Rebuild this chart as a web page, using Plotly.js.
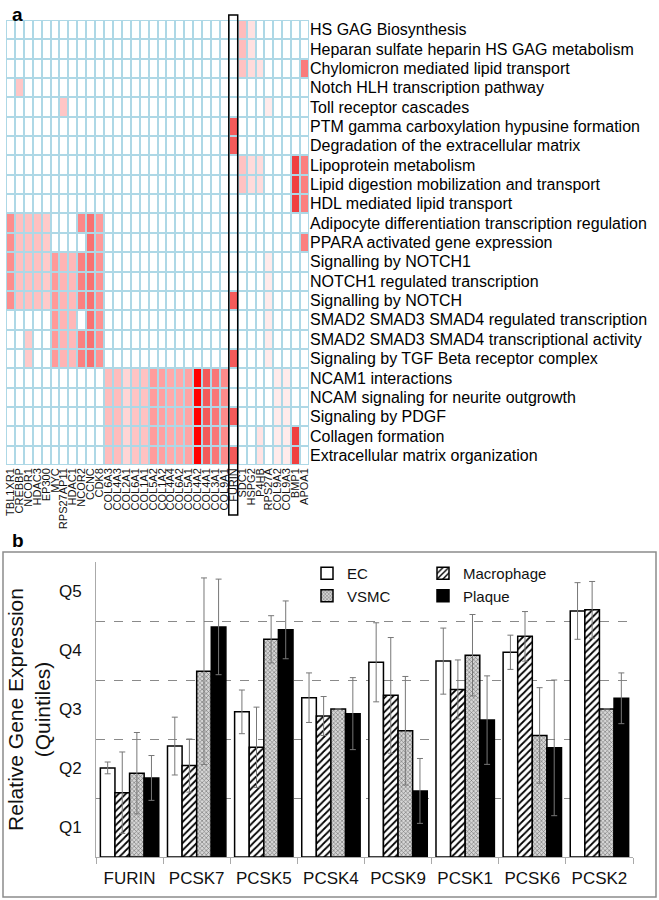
<!DOCTYPE html>
<html>
<head>
<meta charset="utf-8">
<script src="https://cdn.plot.ly/plotly-3.0.1.min.js"></script>
<style>html,body{margin:0;padding:0;background:#fff;}#chart{width:659px;height:900px;}</style>
</head>
<body>
<div id="chart"></div>
<script>
// ---------- Panel a : heatmap ----------
const genes = ['TBL1XR1','CREBBP','NCOR1','HDAC3','EP300','MYC','RPS27AP11','HDAC1','NCOR2','CCNC','CDK8',
  'COL6A3','COL4A3','COL2A1','COL6A1','COL1A1','COL5A2','COL1A2','COL4A4','COL6A2','COL5A1','COL4A2','COL4A1','COL3A1','COL9A1',
  'FURIN','SDC1','HSPG2','P4HB','RPS27A','COL9A2','COL9A3','BMP1','APOA1'];
const pathways = ['HS GAG Biosynthesis','Heparan sulfate heparin HS GAG metabolism','Chylomicron mediated lipid transport',
  'Notch HLH transcription pathway','Toll receptor cascades','PTM gamma carboxylation hypusine formation',
  'Degradation of the extracellular matrix','Lipoprotein metabolism','Lipid digestion mobilization and transport',
  'HDL mediated lipid transport','Adipocyte differentiation transcription regulation','PPARA activated gene expression',
  'Signalling by NOTCH1','NOTCH1 regulated transcription','Signalling by NOTCH','SMAD2 SMAD3 SMAD4 regulated transcription',
  'SMAD2 SMAD3 SMAD4 transcriptional activity','Signaling by TGF Beta receptor complex','NCAM1 interactions',
  'NCAM signaling for neurite outgrowth','Signaling by PDGF','Collagen formation','Extracellular matrix organization'];
// enrichment intensity (0 = none, 1 = strongest), one row per pathway, one column per gene
const enrichment = [
 [0,0,0,0,0,0,0,0,0,0,0, 0,0,0,0,0,0,0,0,0,0,0,0,0,0, 0, .33,.15,0,0,0,0,0,0],
 [0,0,0,0,0,0,0,0,0,0,0, 0,0,0,0,0,0,0,0,0,0,0,0,0,0, 0, .33,.15,0,0,0,0,0,0],
 [0,0,0,0,0,0,0,0,0,0,0, 0,0,0,0,0,0,0,0,0,0,0,0,0,0, 0, .30,.18,.15,0,0,0,0,.62],
 [0,.28,0,0,0,0,0,0,0,0,0, 0,0,0,0,0,0,0,0,0,0,0,0,0,0, 0, 0,0,0,0,0,0,0,0],
 [0,0,0,0,0,0,.28,0,0,0,0, 0,0,0,0,0,0,0,0,0,0,0,0,0,0, 0, 0,0,0,.10,0,0,0,0],
 [0,0,0,0,0,0,0,0,0,0,0, 0,0,0,0,0,0,0,0,0,0,0,0,0,0, .75, 0,0,0,0,0,0,0,0],
 [0,0,0,0,0,0,0,0,0,0,0, 0,0,0,0,0,0,0,0,0,0,0,0,0,0, .75, 0,0,0,0,0,0,0,0],
 [0,0,0,0,0,0,0,0,0,0,0, 0,0,0,0,0,0,0,0,0,0,0,0,0,0, 0, .30,.18,.18,0,0,0,.85,.60],
 [0,0,0,0,0,0,0,0,0,0,0, 0,0,0,0,0,0,0,0,0,0,0,0,0,0, 0, .30,.18,.18,0,0,0,.85,.60],
 [0,0,0,0,0,0,0,0,0,0,0, 0,0,0,0,0,0,0,0,0,0,0,0,0,0, 0, 0,0,0,0,0,0,.85,.60],
 [.55,.31,.31,.31,.26,0,0,0,.57,.66,.50, 0,0,0,0,0,0,0,0,0,0,0,0,0,0, 0, 0,0,0,0,0,0,0,0],
 [.55,.31,.31,.31,.26,0,0,0,0,.66,.50, 0,0,0,0,0,0,0,0,0,0,0,0,0,0, 0, 0,0,0,0,0,0,0,.60],
 [.55,.31,.31,.31,.26,.50,.37,.35,.60,.66,.53, 0,0,0,0,0,0,0,0,0,0,0,0,0,0, 0, 0,0,0,.10,0,0,0,0],
 [.55,.31,.31,.31,.26,.50,.37,.35,.60,.66,.53, 0,0,0,0,0,0,0,0,0,0,0,0,0,0, 0, 0,0,0,.10,0,0,0,0],
 [.55,.31,.31,.31,.26,.50,.37,.35,.60,.66,.53, 0,0,0,0,0,0,0,0,0,0,0,0,0,0, .75, 0,0,0,.10,0,0,0,0],
 [0,0,0,0,0,.50,.37,.35,0,.66,.53, 0,0,0,0,0,0,0,0,0,0,0,0,0,0, 0, 0,0,0,.10,0,0,0,0],
 [0,0,.26,0,0,.50,.37,.35,.60,.66,.53, 0,0,0,0,0,0,0,0,0,0,0,0,0,0, 0, 0,0,0,.10,0,0,0,0],
 [0,0,.26,0,0,.50,.37,.35,.60,.66,.53, 0,0,0,0,0,0,0,0,0,0,0,0,0,0, .75, 0,0,0,.10,0,0,0,0],
 [0,0,0,0,0,0,0,0,0,0,0, .33,.33,.21,.29,.30,.49,.47,.42,.42,.45,1,.75,.64,.56, 0, 0,0,0,0,.10,.10,0,0],
 [0,0,0,0,0,0,0,0,0,0,0, .33,.33,.21,.29,.30,.49,.47,.42,.42,.45,1,.75,.64,.56, 0, 0,0,0,0,.10,.10,0,0],
 [0,0,0,0,0,0,0,0,0,0,0, .33,.33,.21,.29,.30,.49,.47,.42,.42,.45,1,.75,.64,.56, .75, 0,0,0,0,.10,.10,0,0],
 [0,0,0,0,0,0,0,0,0,0,0, .33,.33,.21,.29,.30,.49,.47,.42,.42,.45,1,.75,.64,.56, 0, 0,0,.14,0,.10,.10,.85,0],
 [0,0,0,0,0,0,0,0,0,0,0, .33,.33,.21,.29,.30,.49,.47,.42,.42,.45,1,.75,.64,.56, .75, 0,0,.14,0,.10,.10,.85,0]
];

// ---------- Panel b : grouped bars ----------
const proteases = ['FURIN','PCSK7','PCSK5','PCSK4','PCSK9','PCSK1','PCSK6','PCSK2'];
const ecVals      = [1.51, 1.88, 2.46, 2.70, 3.30, 3.32, 3.47, 4.17];
const ecErr       = [0.10, 0.49, 0.37, 0.42, 0.67, 0.56, 0.29, 0.48];
const macroVals   = [1.09, 1.55, 1.86, 2.39, 2.74, 2.84, 3.74, 4.19];
const macroErr    = [0.69, 0.45, 0.68, 0.33, 0.98, 0.50, 0.42, 0.48];
const vsmcVals    = [1.42, 3.15, 3.69, 2.51, 2.14, 3.42, 2.06, 2.51];
const vsmcErr     = [0.69, 1.58, 0.40, 0.00, 0.92, 0.69, 0.81, 0.00];
const plaqueVals  = [1.34, 3.90, 3.85, 2.43, 1.12, 2.32, 1.85, 2.69];
const plaqueErr   = [0.38, 0.81, 0.49, 0.61, 0.55, 0.75, 1.15, 0.43];
const quintileVals = [0.5, 1.5, 2.5, 3.5, 4.5];
const quintileText = ['Q1','Q2','Q3','Q4','Q5'];
const quintileBounds = [1, 2, 3, 4, 5];

const W = 659, H = 900;
const px = v => v / W, py = v => 1 - v / H;
const FONT = 'Liberation Sans, Arial, Helvetica, sans-serif';
const errStyle = {type:'data', color:'#777', thickness:1, width:3};
const outline = {color:'#000', width:1.5};

const traces = [
 {type:'heatmap', x:genes, y:pathways, z:enrichment, xaxis:'x2', yaxis:'y2', zmin:0, zmax:1,
  colorscale:[[0,'#ffffff'],[0.5,'#ff9a9a'],[0.85,'#f04040'],[1,'#ff0000']],
  showscale:false, xgap:2, ygap:2, hoverongaps:false},
 {type:'bar', name:'EC', x:proteases, y:ecVals, error_y:Object.assign({array:ecErr}, errStyle),
  marker:{color:'#ffffff', line:outline}, legend:'legend'},
 {type:'bar', name:'Macrophage', x:proteases, y:macroVals, error_y:Object.assign({array:macroErr}, errStyle),
  marker:{color:'#ffffff', line:outline, pattern:{shape:'/', fgcolor:'#000', bgcolor:'#ffffff', size:5, solidity:0.35}}, legend:'legend2'},
 {type:'bar', name:'VSMC', x:proteases, y:vsmcVals, error_y:Object.assign({array:vsmcErr}, errStyle),
  marker:{color:'#bdbdbd', line:outline, pattern:{shape:'x', fgcolor:'#6e6e6e', bgcolor:'#d6d6d6', size:3, solidity:0.35}}, legend:'legend'},
 {type:'bar', name:'Plaque', x:proteases, y:plaqueVals, error_y:Object.assign({array:plaqueErr}, errStyle),
  marker:{color:'#000000', line:outline}, legend:'legend2'}
];

const layout = {
 width:W, height:H, margin:{l:0,r:0,t:0,b:0},
 paper_bgcolor:'#fff', plot_bgcolor:'rgba(0,0,0,0)',
 font:{family:FONT, color:'#000'},
 barmode:'group', bargap:0.13, bargroupgap:0,
 xaxis:{domain:[px(96), px(633)], anchor:'y', type:'category', showline:true, linecolor:'#aaa', linewidth:1,
   ticks:'outside', tickson:'boundaries', ticklen:6, tickcolor:'#aaa', tickfont:{size:17, color:'#111'},
   ticklabelstandoff:6, showgrid:false, zeroline:false, fixedrange:true},
 yaxis:{domain:[py(857), py(562)], anchor:'x', range:[0,5], tickmode:'array', tickvals:quintileVals, ticktext:quintileText,
   tickfont:{size:17, color:'#111'}, ticklabelstandoff:10, showgrid:false, showline:true, linecolor:'#aaa', ticks:'', zeroline:false,
   minor:{tickmode:'array', tickvals:quintileBounds, showgrid:true, gridcolor:'#8a8a8a', gridwidth:1, griddash:'dash', ticks:''},
   title:{text:'Relative Gene Expression<br>(Quintiles)', font:{size:21, color:'#111'}, standoff:2}, fixedrange:true},
 xaxis2:{domain:[px(6), px(309)], anchor:'y2', type:'category', tickmode:'array', tickvals:genes, ticktext:genes,
   tickangle:-90, tickfont:{size:11, color:'#111'}, ticks:'', showgrid:false, zeroline:false, showline:false, fixedrange:true},
 yaxis2:{domain:[py(465), py(20)], anchor:'x2', type:'category', side:'right', autorange:'reversed',
   tickmode:'array', tickvals:pathways, ticktext:pathways, tickfont:{size:16, color:'#000'}, ticks:'',
   showgrid:false, zeroline:false, showline:false, fixedrange:true},
 legend:{x:px(307), xanchor:'left', y:py(557), yanchor:'top', bgcolor:'rgba(0,0,0,0)', font:{size:15, color:'#111'},
   tracegroupgap:0, itemclick:false, itemdoubleclick:false},
 legend2:{x:px(423), xanchor:'left', y:py(557), yanchor:'top', bgcolor:'rgba(0,0,0,0)', font:{size:15, color:'#111'},
   tracegroupgap:0, itemclick:false, itemdoubleclick:false},
 shapes:[
  {type:'rect', xref:'x2 domain', yref:'y2 domain', x0:0, x1:1, y0:0, y1:1, layer:'below',
   fillcolor:'#aed8e6', line:{width:0}},
  {type:'rect', xref:'x2', yref:'paper', x0:24.5, x1:25.5, y0:py(515), y1:py(15),
   line:{color:'#000', width:1.5}, fillcolor:'rgba(0,0,0,0)'},
  {type:'rect', xref:'paper', yref:'paper', x0:px(3), x1:px(656), y0:py(897), y1:py(552),
   line:{color:'#8c8c8c', width:1.5}, fillcolor:'rgba(0,0,0,0)'}
 ],
 annotations:[
  {text:'<b>a</b>', xref:'paper', yref:'paper', x:px(10), y:py(2), xanchor:'left', yanchor:'top', showarrow:false, font:{size:19}},
  {text:'<b>b</b>', xref:'paper', yref:'paper', x:px(10), y:py(528), xanchor:'left', yanchor:'top', showarrow:false, font:{size:19}}
 ]
};

Plotly.newPlot('chart', traces, layout, {displayModeBar:false, staticPlot:true});
</script>
</body>
</html>
